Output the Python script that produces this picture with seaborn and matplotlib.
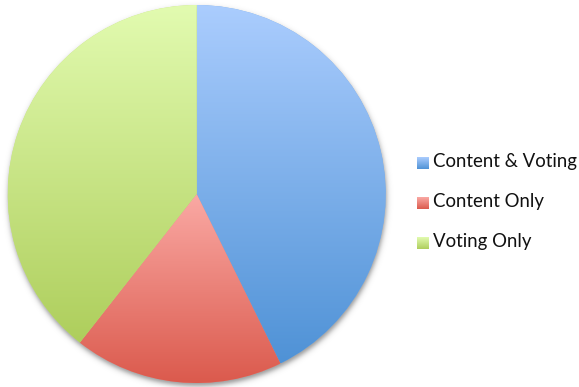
import numpy as np
import matplotlib
matplotlib.use("Agg")
import matplotlib.pyplot as plt
import seaborn as sns

# Share of participants by activity type
categories = ["Content & Voting", "Content Only", "Voting Only"]
shares = [42.7, 17.9, 39.4]

# Top / bottom colours of each slice's vertical gradient
top_colors = ["#abcdfe", "#faa9a4", "#e2fbb0"]
bottom_colors = ["#4f92d6", "#db5a4d", "#aece5c"]

sns.set_style("white")
plt.rcParams["font.family"] = ["Lato", "DejaVu Sans"]

W, H = 579, 387
fig = plt.figure(figsize=(W / 100, H / 100), dpi=100)
ax = fig.add_axes([0, 0, 1, 1])

cx, cy, R = 196.7, H - 194.0, 189.0

# soft drop shadow under the pie
xs = np.arange(W) + 0.5
ys = np.arange(H) + 0.5
X, Y = np.meshgrid(xs, ys)
d = np.hypot(X - cx - 0.8, Y - cy + 3.0)
alpha = 0.42 / (1.0 + np.exp((d - R) / 1.6))
shadow = np.zeros((H, W, 4))
shadow[..., 3] = alpha
ax.imshow(shadow, extent=(0, W, 0, H), origin="lower", zorder=0,
          interpolation="bilinear")

mid_colors = [sns.blend_palette([t, b], 3)[1] for t, b in zip(top_colors, bottom_colors)]
wedges, _ = ax.pie(shares, colors=mid_colors, startangle=90, counterclock=False,
                   center=(cx, cy), radius=R,
                   wedgeprops=dict(linewidth=0, zorder=1))

grad = np.linspace(0, 1, 256).reshape(-1, 1)
cmaps = [sns.blend_palette([t, b], n_colors=256, as_cmap=True)
         for t, b in zip(top_colors, bottom_colors)]

for w, cmap in zip(wedges, cmaps):
    ext = w.get_path().get_extents()
    im = ax.imshow(grad, cmap=cmap, aspect="auto", origin="upper",
                   extent=(ext.x0, ext.x1, ext.y0, ext.y1), zorder=2,
                   interpolation="bilinear")
    im.set_clip_path(w)

# legend: gradient swatches with labels
sw = 12
label_x = 433
baselines = [167.3, 207.0, 247.5]
for label, cmap, base in zip(categories, cmaps, baselines):
    yb = H - base
    y0 = yb - 2
    ax.imshow(grad, cmap=cmap, aspect="auto", origin="upper",
              extent=(417, 417 + sw, y0, y0 + sw), zorder=3)
    ax.text(label_x, yb, label, fontsize=13.4, color="#111111",
            ha="left", va="baseline", zorder=4)

ax.set_xlim(0, W)
ax.set_ylim(0, H)
ax.set_aspect("auto")
ax.axis("off")

fig.savefig("out.png", dpi=100, facecolor="white")
